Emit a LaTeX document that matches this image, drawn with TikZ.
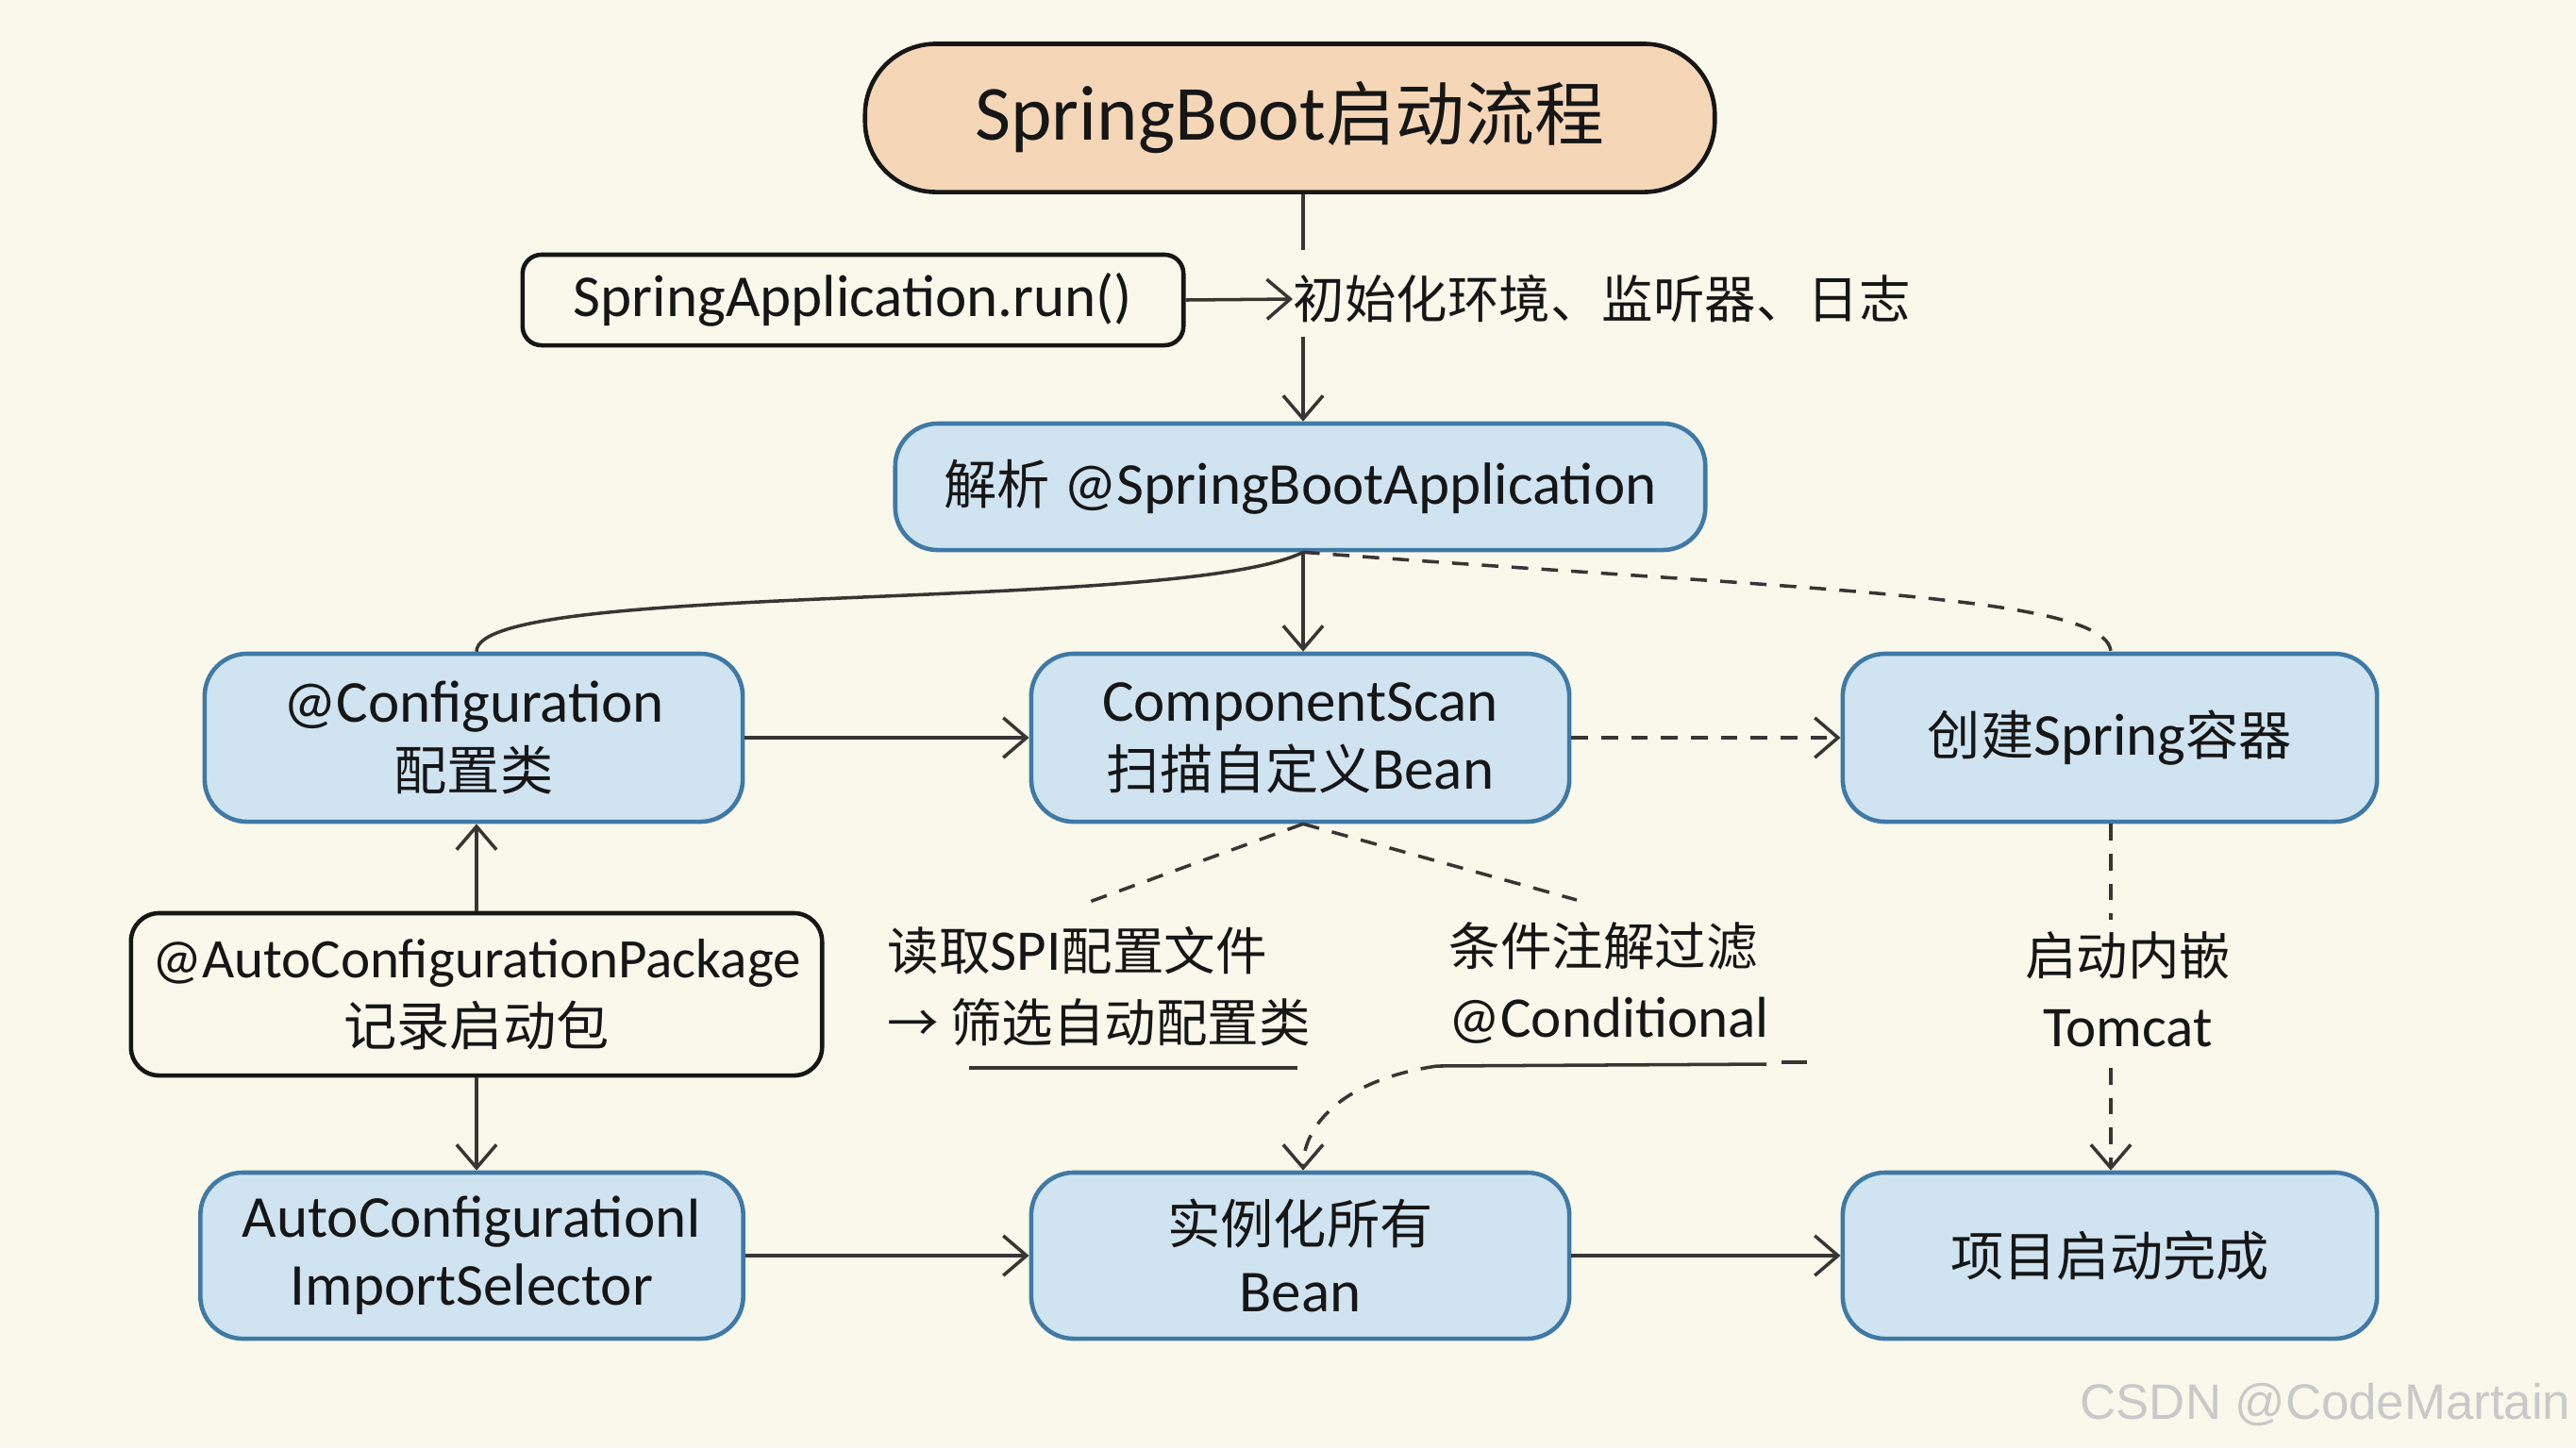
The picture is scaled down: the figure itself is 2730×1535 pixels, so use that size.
\documentclass[tikz,border=0pt]{standalone}
\usepackage{fontspec}
\setmainfont{Carlito}[Scale=1.12]
\newfontfamily\cjk{Noto Sans CJK SC}
\newcommand\zhtxt[1]{{\cjk #1}}
\usetikzlibrary{arrows.meta}
\definecolor{bgc}{HTML}{FAF8EB}
\definecolor{bluefill}{HTML}{CFE3F1}
\definecolor{blueline}{HTML}{3F79A6}
\definecolor{peach}{HTML}{F5D6B6}
\definecolor{inkc}{HTML}{161616}
\definecolor{linec}{HTML}{3A3433}
\definecolor{wmark}{HTML}{C9C9C9}
\tikzset{
  base/.style={rounded corners=0.45cm, line width=1.3pt, align=center, inner sep=0pt, text=inkc, font=\fontsize{16}{20.5}\selectfont},
  bluebox/.style={base, draw=blueline, fill=bluefill},
  plainbox/.style={base, draw=inkc},
  conn/.style={draw=linec, line width=1pt, -{Straight Barb[length=7pt,width=12pt]}},
  plainline/.style={draw=linec, line width=1pt},
  dashline/.style={dash pattern=on 5pt off 4pt},
  lbl/.style={inner sep=0pt, text=inkc, align=left, font=\fontsize{15.5}{21.5}\selectfont}
}
\begin{document}
\begin{tikzpicture}[x=0.01cm,y=-0.01cm]
\fill[bgc] (0,0) rectangle (2730,1535);
\useasboundingbox (0,0) rectangle (2730,1535);

% nodes
\node[base, draw=inkc, fill=peach, rounded corners=0.75cm, minimum width=9.0cm, minimum height=1.57cm, font=\fontsize{21}{26}\selectfont] (title) at (1367,125) {{\fontsize{21}{26}\selectfont SpringBoot}\zhtxt{启动流程}};
\node[plainbox, rounded corners=0.2cm, minimum width=7.0cm, minimum height=0.96cm] (run) at (904,318) {SpringApplication.run()};
\node[lbl, anchor=west] (init) at (1370,317) {\zhtxt{初始化环境、监听器、日志}};
\node[bluebox, minimum width=8.58cm, minimum height=1.34cm] (parse) at (1378,516) {\zhtxt{解析} @SpringBootApplication};
\node[bluebox, minimum width=5.7cm, minimum height=1.78cm] (config) at (502,782) {@Configuration\\\zhtxt{配置类}};
\node[bluebox, minimum width=5.7cm, minimum height=1.78cm] (scan) at (1378,782) {ComponentScan\\\zhtxt{扫描自定义}Bean};
\node[bluebox, minimum width=5.66cm, minimum height=1.78cm] (create) at (2236,782) {\zhtxt{创建}Spring\zhtxt{容器}};
\node[plainbox, rounded corners=0.3cm, minimum width=7.32cm, minimum height=1.72cm] (autopkg) at (505,1054) {{\fontsize{15}{20.5}\selectfont @AutoConfigurationPackage}\\\zhtxt{记录启动包}};
\node[bluebox, minimum width=5.75cm, minimum height=1.76cm] (selector) at (500,1331) {AutoConfigurationI\\ImportSelector};
\node[bluebox, minimum width=5.7cm, minimum height=1.76cm] (inst) at (1378,1331) {\zhtxt{实例化所有}\\Bean};
\node[bluebox, minimum width=5.66cm, minimum height=1.76cm] (done) at (2236,1331) {\zhtxt{项目启动完成}};

\node[lbl, anchor=north west] (spi) at (940,982) {\zhtxt{读取}SPI\zhtxt{配置文件}\\\zhtxt{→ 筛选自动配置类}};
\node[lbl, anchor=north west] (cond) at (1535,977) {\zhtxt{条件注解过滤}\\@Conditional};
\node[lbl, align=center, anchor=north] (tomcat) at (2255,987) {\zhtxt{启动内嵌}\\Tomcat};

\node[anchor=east, inner sep=0pt, text=wmark, font=\fontsize{15}{18}\selectfont] (wm) at (2725,1489) {\fontspec{Liberation Sans}CSDN @CodeMartain};

% helper coordinates
\coordinate (t1) at (1381,265);
\coordinate (t2) at (1381,357);
\coordinate (spiEnd) at (1149,958);
\coordinate (condEnd) at (1671,954);
\coordinate (spiU1) at (1027,1132);
\coordinate (spiU2) at (1375,1132);
\coordinate (condU1) at (1523,1130);
\coordinate (condU2) at (1872,1128);
\coordinate (condU3) at (1888,1126);
\coordinate (condU4) at (1915,1126);
\coordinate (tc1) at (2237,975);
\coordinate (tc2) at (2237,1132);

% connectors
\draw[plainline] (title.south -| t1) -- (t1);
\draw[conn] (t2) -- (parse.north -| t2);
\draw[conn] (run.east) -- (init.west);
\draw[conn] (parse.south -| t1) -- (scan.north -| t1);
\draw[plainline] (parse.south -| t1) .. controls (1250,650) and (505,615) .. (config.north -| autopkg.north);
\draw[plainline, dashline] (parse.south -| t1) .. controls (1900,625) and (2233,630) .. (create.north -| tc1);
\draw[conn] (config.east) -- (scan.west);
\draw[conn, dashline] (scan.east) -- (create.west);
\draw[conn] (autopkg.north) -- (config.south -| autopkg.north);
\draw[conn] (autopkg.south) -- (selector.north -| autopkg.south);
\draw[conn] (selector.east) -- (inst.west);
\draw[conn] (inst.east) -- (done.west);
\draw[plainline, dashline] (scan.south -| t1) -- (spiEnd);
\draw[plainline, dashline] (scan.south -| t1) -- (condEnd);
\draw[plainline] (spiU1) -- (spiU2);
\draw[plainline] (condU1) -- (condU2);
\draw[plainline] (condU3) -- (condU4);
\draw[conn, dashline] (condU1) .. controls (1420,1145) and (1381,1195) .. (inst.north -| t1);
\draw[plainline, dashline] (create.south -| tc1) -- (tc1);
\draw[conn, dashline] (tc2) -- (done.north -| tc2);
\end{tikzpicture}
\end{document}
